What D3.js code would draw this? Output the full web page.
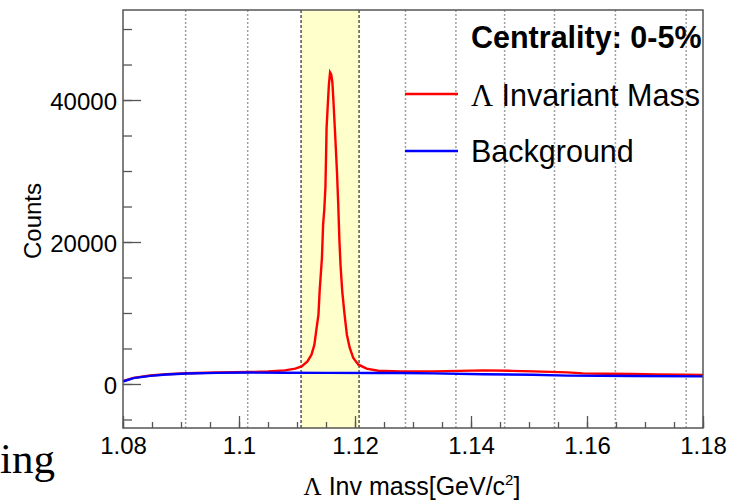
<!DOCTYPE html>
<html>
<head>
<meta charset="utf-8">
<script src="https://cdn.jsdelivr.net/npm/d3@7"></script>
<style>
  html, body { margin: 0; padding: 0; background: #fff; }
  svg { display: block; }
  text { font-family: "Liberation Sans", Arial, sans-serif; fill: #000; }
</style>
</head>
<body>
<svg id="chart" width="735" height="501"></svg>
<script>
// ---------- data ----------
const sigMass = [1.0800, 1.0818, 1.0847, 1.0875, 1.0910, 1.0962, 1.1019, 1.1050, 1.1079, 1.1097,
  1.1108, 1.1118, 1.1125, 1.1130, 1.1133, 1.1137, 1.1139, 1.1141, 1.1143, 1.1145,
  1.1147, 1.1149, 1.1150, 1.1151, 1.1153, 1.1155, 1.1157, 1.1159, 1.1161, 1.1163,
  1.1165, 1.1167, 1.1169, 1.1171, 1.1173, 1.1175, 1.1178, 1.1182, 1.1186, 1.1191,
  1.1197, 1.1206, 1.1220, 1.1240, 1.1278, 1.1334, 1.1380, 1.1421, 1.1470, 1.1507,
  1.1566, 1.1593, 1.1633, 1.1679, 1.1720, 1.1766, 1.1800];
const sigCounts = [400, 860, 1190, 1370, 1520, 1620, 1680, 1760, 1920, 2160,
  2480, 3180, 4130, 5540, 7410, 9760, 13040, 15400, 17750, 22450,
  24500, 27700, 31700, 36060, 39200, 42160, 43890, 43600, 42480, 39580,
  36380, 33100, 29720, 25500, 20500, 16800, 13040, 9760, 6940, 5070,
  3660, 2720, 2160, 1870, 1780, 1780, 1850, 1920, 1850, 1780,
  1640, 1500, 1440, 1410, 1360, 1310, 1270];

const bgMass = [1.0800, 1.0818, 1.0847, 1.0875, 1.0910, 1.0962, 1.1019, 1.1076, 1.1150, 1.1240,
  1.1278, 1.1334, 1.1421, 1.1507, 1.1566, 1.1679, 1.1800];
const bgCounts = [350, 830, 1150, 1340, 1480, 1570, 1610, 1580, 1560, 1550,
  1540, 1500, 1380, 1300, 1180, 1130, 1070];

const gridMass = [1.0908, 1.1015, 1.1287, 1.1374, 1.1458, 1.1544, 1.1649, 1.1771];
const bandMass = [1.1107, 1.1207];

const xMajorTicks = [1.08, 1.10, 1.12, 1.14, 1.16, 1.18];
const xTickLabels = ["1.08", "1.1", "1.12", "1.14", "1.16", "1.18"];
const xMinorTicks = d3.range(0, 21).map(i => +(1.08 + i * 0.005).toFixed(3));
const yMajorTicks = [0, 20000, 40000];
const yMinorTicks = d3.range(-1, 11).map(i => i * 5000);

const legendLabels = ["Centrality: 0-5%", "Invariant Mass", "Background"];
const seriesColors = ["#ff0000", "#0000ff"];

// ---------- layout ----------
const svg = d3.select("#chart");
const L = 123, R = 703, T = 10, B = 428;
const x = d3.scaleLinear().domain([1.08, 1.18]).range([L, R]);
const y = d3.scaleLinear().domain([-6200, 52680]).range([B, T]);

// band
svg.append("rect")
  .attr("x", x(bandMass[0])).attr("y", T)
  .attr("width", x(bandMass[1]) - x(bandMass[0])).attr("height", B - T)
  .attr("fill", "#ffffcc");

// dotted grid lines
svg.append("g").selectAll("line").data(gridMass).join("line")
  .attr("x1", d => x(d)).attr("x2", d => x(d))
  .attr("y1", T).attr("y2", B)
  .attr("stroke", "#a0a0a0").attr("stroke-width", 1.5)
  .attr("stroke-dasharray", "2,2");

// band edges dashed
svg.append("g").selectAll("line").data(bandMass).join("line")
  .attr("x1", d => x(d)).attr("x2", d => x(d))
  .attr("y1", T).attr("y2", B)
  .attr("stroke", "#000").attr("stroke-width", 1)
  .attr("stroke-dasharray", "3,2");

// curves
const line = d3.line().x(d => x(d[0])).y(d => y(d[1])).curve(d3.curveLinear);
svg.append("path")
  .datum(sigMass.map((m, i) => [m, sigCounts[i]]))
  .attr("d", line).attr("fill", "none")
  .attr("stroke", seriesColors[0]).attr("stroke-width", 2.4).attr("stroke-linejoin", "miter");
svg.append("path")
  .datum(bgMass.map((m, i) => [m, bgCounts[i]]))
  .attr("d", line).attr("fill", "none")
  .attr("stroke", seriesColors[1]).attr("stroke-width", 2.4);

// axes
const axisColor = "#555";
function styleAxis(g) {
  g.select(".domain").remove();
  g.selectAll(".tick line").attr("stroke", axisColor).attr("stroke-width", 1.3);
  g.selectAll("text").style("font-family", "'Liberation Sans', Arial, sans-serif").style("font-size", "24px").attr("fill", "#000");
}
svg.append("g").attr("transform", `translate(0,${B})`)
  .call(d3.axisBottom(x).tickValues(xMinorTicks).tickSize(-6).tickFormat(""))
  .call(styleAxis);
svg.append("g").attr("transform", `translate(0,${B})`)
  .call(d3.axisBottom(x).tickValues(xMajorTicks).tickSize(-12).tickPadding(9)
    .tickFormat((d, i) => xTickLabels[i]))
  .call(styleAxis);
svg.append("g").attr("transform", `translate(${L},0)`)
  .call(d3.axisLeft(y).tickValues(yMinorTicks).tickSize(-9).tickFormat(""))
  .call(styleAxis);
svg.append("g").attr("transform", `translate(${L},0)`)
  .call(d3.axisLeft(y).tickValues(yMajorTicks).tickSize(-18).tickPadding(6).tickFormat(d3.format("d")))
  .call(styleAxis)
  .call(g => g.selectAll("text").attr("dy", "0.38em"));

// frame
svg.append("rect").attr("x", L).attr("y", T).attr("width", R - L).attr("height", B - T)
  .attr("fill", "none").attr("stroke", axisColor).attr("stroke-width", 1.5);

// axis titles
const xt = svg.append("text").attr("x", 412).attr("y", 495).attr("text-anchor", "middle")
  .style("font-size", "25px");
xt.append("tspan").style("font-family", "'Liberation Serif', serif").text("Λ");
xt.append("tspan").text(" Inv mass[GeV/c");
xt.append("tspan").attr("dy", -10).style("font-size", "15px").text("2");
xt.append("tspan").attr("dy", 10).text("]");

svg.append("text").attr("transform", "translate(41,221) rotate(-90)")
  .attr("text-anchor", "middle").style("font-size", "24px").text("Counts");

// legend
svg.append("text").attr("x", 471).attr("y", 48).style("font-size", "30.5px")
  .style("font-weight", "bold").text(legendLabels[0]);
const legY = [94, 151];
svg.append("g").selectAll("line").data(legY).join("line")
  .attr("x1", 405).attr("x2", 458).attr("y1", d => d).attr("y2", d => d)
  .attr("stroke", (d, i) => seriesColors[i]).attr("stroke-width", 2.4);
const l1 = svg.append("text").attr("x", 471).attr("y", 106).style("font-size", "30.5px");
l1.append("tspan").style("font-family", "'Liberation Serif', serif").text("Λ");
l1.append("tspan").text(" " + legendLabels[1]);
svg.append("text").attr("x", 471).attr("y", 162).style("font-size", "30.5px").text(legendLabels[2]);

// stray text fragment at lower left
svg.append("text").attr("x", 0).attr("y", 473)
  .style("font-family", "'Liberation Serif', 'Times New Roman', serif")
  .style("font-size", "43px").text("ing");
</script>
</body>
</html>
